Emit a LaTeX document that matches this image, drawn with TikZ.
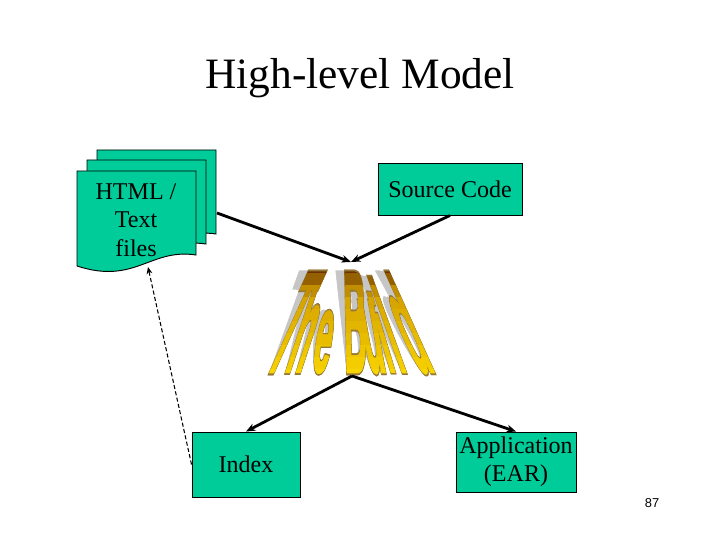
\documentclass[tikz,border=0pt]{standalone}
\usepackage{fontspec}
\setmainfont{Liberation Serif}
\newfontfamily\artfont[FakeBold=2]{Liberation Sans Bold}
\newfontfamily\artedgefont[FakeBold=4.5]{Liberation Sans Bold}
\newfontfamily\pagefont{Liberation Sans}
\usetikzlibrary{arrows.meta}
\definecolor{docgreen}{RGB}{0,204,153}
\definecolor{artbrown}{RGB}{105,50,0}
\definecolor{artgold}{RGB}{215,165,0}
\definecolor{artyellow}{RGB}{255,222,0}
\definecolor{artedge}{RGB}{150,120,55}
\tikzset{
	defaultstyle/.style={
		x=0.03cm, y=-0.03cm,
		>={Stealth[length=8pt,width=6.5pt]},
		line width=0.8pt},
	artletter/.style={
		text=#1, anchor=base, inner sep=0pt,
		font=\artfont\fontsize{30}{30}\selectfont},
	artoutline/.style={
		artletter=artedge, font=\artedgefont\fontsize{30}{30}\selectfont}}
\newcommand\buildword[3]{%
	\foreach \ch/\bx/\sl/\ys in {T/272/0.45/4.1, h/293/0.33/3.5, e/319/0.16/3.2,
		B/356/-0.02/4.1, u/378/-0.18/3.8, i/393/-0.3/3.1, l/404/-0.36/3.7, d/427/-0.45/3.9}
		\node[#1, xslant={\sl*#2}, yscale={\ys*#3}, xscale=0.88] at (\bx,372) {\ch};}

\begin{document}
\begin{tikzpicture}[defaultstyle,
	every text node part/.style={align=center},
	box/.style={draw, fill=docgreen, inner sep=0pt, font=\fontsize{20.5}{24}\selectfont},
	docsheet/.style={draw, fill=docgreen},
	flow/.style={line width=2.4pt},
	dashflow/.style={line width=0.9pt, dash pattern=on 3.5pt off 2pt, >={Stealth[length=6pt,width=5pt]}},
	]
	\useasboundingbox (0,0) rectangle (720,540);

	\node[font=\fontsize{37}{37}\selectfont] (title) at (360,78) {High-level Model};

	\foreach \dx/\dy in {20/-21, 10/-11, 0/0}
		\filldraw[docsheet, shift={(77+\dx,171+\dy)}] (0,0) -- (119,0) -- (119,84)
			.. controls (73,77) and (58,114) .. (0,95) -- cycle;
	\node[font=\fontsize{20.5}{24.5}\selectfont] (html) at (136,220) {HTML /\\Text\\files};
	\coordinate (htmlout) at (217,213);
	\coordinate (htmlin) at (148,267);

	\node[box, minimum width=4.32cm, minimum height=1.56cm] (src) at (450,189) {Source Code};
	\node[box, minimum width=3.24cm, minimum height=1.95cm] (idx) at (246,464.5) {Index};
	\node[box, minimum width=3.6cm, minimum height=1.8cm] (app) at (516,462) {Application\\(EAR)};

	% the word art
	\foreach \f in {2,1}
		\buildword{artletter=gray!45}{1-0.045*\f}{1+0.02*\f}
	\buildword{artoutline}{1}{1}
	\foreach \i in {0,...,9}{
		\pgfmathsetmacro\ya{262+\i*12}
		\pgfmathsetmacro\yb{\ya+12.5}
		\pgfmathtruncatemacro\mixa{min(\i*40,100)}
		\pgfmathtruncatemacro\mixb{max(\i-3,0)*14}
		\colorlet{bandcol}{artyellow!\mixb!artgold!\mixa!artbrown}
		\begin{scope}
			\clip (230,\ya) rectangle (480,\yb);
			\buildword{artletter=bandcol}{1}{1}
		\end{scope}
	}
	\coordinate (buildin) at (351,262);
	\coordinate (buildout) at (352,376);

	\draw[flow, ->] (htmlout) -- (buildin);
	\draw[flow, ->] (src.south) -- (buildin);
	\draw[flow, ->] (buildout) -- (idx.north);
	\draw[flow, ->] (buildout) -- (app.north);
	\draw[dashflow, ->] (idx.west) -- (htmlin);

	\node[font=\pagefont\fontsize{11}{11}\selectfont] (page) at (652,503) {87};

\end{tikzpicture}
\end{document}
